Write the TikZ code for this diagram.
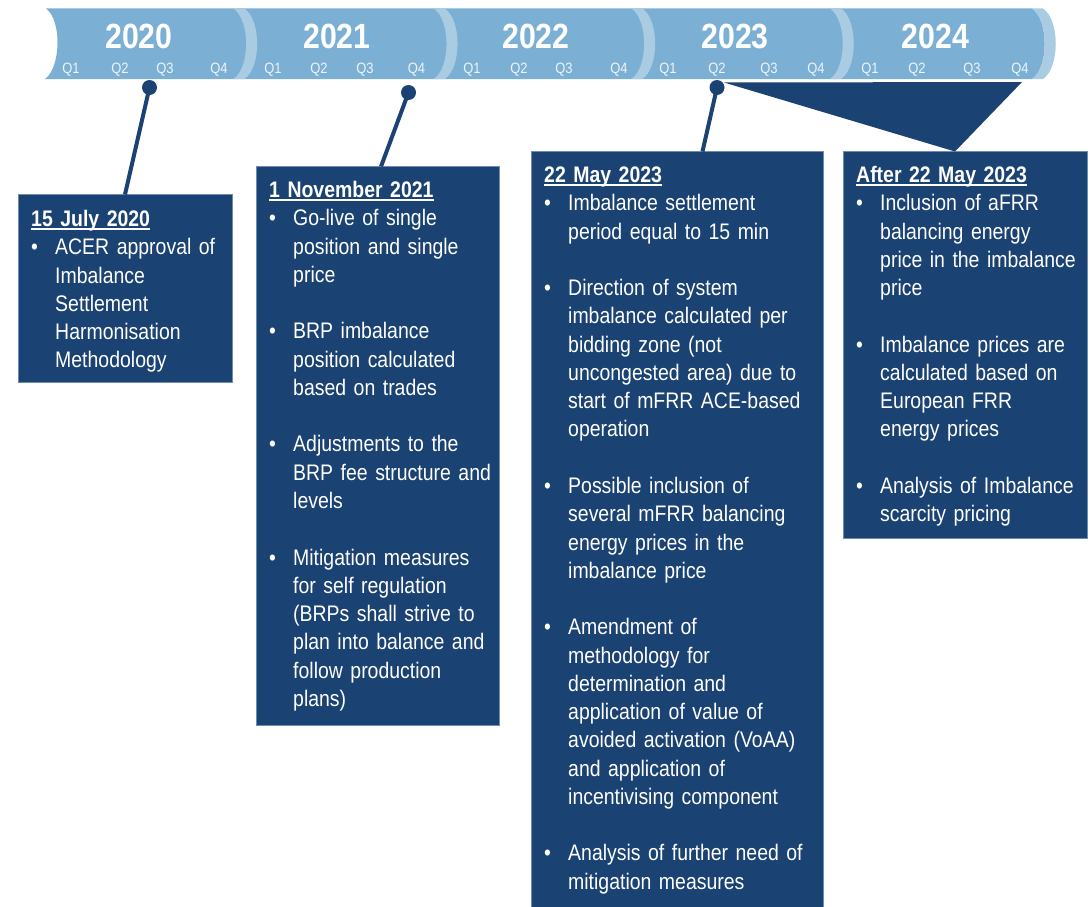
\documentclass[tikz,border=0pt]{standalone}
\usepackage{fontspec}
\newfontfamily\nar{Liberation Sans}[FakeStretch=0.865]
\definecolor{barblue}{HTML}{7BAFD4}
\definecolor{bandblue}{HTML}{A9CCE3}
\definecolor{navy}{HTML}{1A4272}
\definecolor{edgeblue}{HTML}{6E8CB0}
\definecolor{qtext}{HTML}{EEF4F9}
\newsavebox\ttlbox
\newcommand\ttl[1]{\sbox\ttlbox{\bfseries #1}\rlap{\usebox\ttlbox}\rule[-3.3pt]{\wd\ttlbox}{1.8pt}}
\newcommand\blt{\makebox[24pt][l]{\textbullet}}
\newcommand\ind{\hspace*{24pt}}
\tikzset{
  year/.style={text=white, font=\nar\bfseries\fontsize{35}{35}\selectfont, inner sep=0pt, anchor=center},
  qlab/.style={text=qtext, font=\nar\fontsize{15}{15}\selectfont, inner sep=0pt, anchor=center},
  infobox/.style={draw=edgeblue, line width=0.8pt, fill=navy, anchor=north west, inner sep=0pt},
  infotext/.style={text=white, anchor=base west, inner sep=0pt, text width=320pt, align=left,
    font=\nar\fontsize{22.5}{28.27}\selectfont},
  pindot/.style={circle, fill=navy, minimum size=15pt, inner sep=0pt},
  pinline/.style={draw=navy, line width=4pt}
}
\begin{document}
\begin{tikzpicture}[x=1pt,y=-1pt]
\useasboundingbox (0,0) rectangle (1092,907);
% timeline bar
\fill[barblue] (46,8.5) -- (1032,8.5) .. controls (1049,20) and (1049,67.5) .. (1032,79)
  -- (45,79) .. controls (61,67.5) and (62,20) .. (46,8.5) -- cycle;
\foreach \b in {233.4,433.8,631.4,830,1032}{
  \fill[bandblue] (\b,8.5) .. controls ({\b+17},20) and ({\b+17},67.5) .. (\b,79)
    -- ({\b+11},79) .. controls ({\b+28},67.5) and ({\b+28},20) .. ({\b+11},8.5) -- cycle;
}
% years
\foreach \yr/\xx in {2020/139,2021/337,2022/536,2023/735,2024/935.5}
  \node[year] (y\yr) at (\xx,36) {\yr};
% quarters
\foreach \xx/\nm/\q in {71/a1/Q1,120/a2/Q2,165/a3/Q3,219/a4/Q4,
  273/b1/Q1,319/b2/Q2,365/b3/Q3,416.5/b4/Q4,
  472/c1/Q1,519/c2/Q2,564/c3/Q3,619/c4/Q4,
  668/d1/Q1,717/d2/Q2,769/d3/Q3,816/d4/Q4,
  870/e1/Q1,917/e2/Q2,972/e3/Q3,1020/e4/Q4}
  \node[qlab] (q\nm) at (\xx,69.5) {\q};
% boxes
\node[infobox, minimum width=214pt, minimum height=188pt] (box1) at (18,194) {};
\node[infobox, minimum width=243pt, minimum height=559pt] (box2) at (256,166) {};
\node[infobox, minimum width=292pt, minimum height=770pt] (box3) at (531,151) {};
\node[infobox, minimum width=244pt, minimum height=387pt] (box4) at (843,151) {};
% pins
\node[pindot] (dot1) at (149.5,87.5) {};
\node[pindot] (dot2) at (408.5,92.5) {};
\node[pindot] (dot3) at (717,87.5) {};
\coordinate (p1) at (125,194.5);
\coordinate (p2) at (381,166.5);
\coordinate (p3) at (702.5,151.5);
\draw[pinline] (dot1.center) -- (p1);
\draw[pinline] (dot2.center) -- (p2);
\draw[pinline] (dot3.center) -- (p3);
% range triangle
\coordinate (tA) at (724,82.5);
\coordinate (tB) at (1022,82);
\coordinate (tC) at (955,151.5);
\fill[navy] (tA) -- (tB) -- (tC) -- cycle;
% texts
\node[infotext] (txt1) at (31,226.5) {\ttl{15 July 2020}\\
\blt ACER approval of\\
\ind Imbalance\\
\ind Settlement\\
\ind Harmonisation\\
\ind Methodology};
\node[infotext] (txt2) at (269,197.5) {\ttl{1 November 2021}\\
\blt Go-live of single\\
\ind position and single\\
\ind price\\
\mbox{}\\
\blt BRP imbalance\\
\ind position calculated\\
\ind based on trades\\
\mbox{}\\
\blt Adjustments to the\\
\ind BRP fee structure and\\
\ind levels\\
\mbox{}\\
\blt Mitigation measures\\
\ind for self regulation\\
\ind (BRPs shall strive to\\
\ind plan into balance and\\
\ind follow production\\
\ind plans)};
\node[infotext] (txt3) at (544,182.5) {\ttl{22 May 2023}\\
\blt Imbalance settlement\\
\ind period equal to 15 min\\
\mbox{}\\
\blt Direction of system\\
\ind imbalance calculated per\\
\ind bidding zone (not\\
\ind uncongested area) due to\\
\ind start of mFRR ACE-based\\
\ind operation\\
\mbox{}\\
\blt Possible inclusion of\\
\ind several mFRR balancing\\
\ind energy prices in the\\
\ind imbalance price\\
\mbox{}\\
\blt Amendment of\\
\ind methodology for\\
\ind determination and\\
\ind application of value of\\
\ind avoided activation (VoAA)\\
\ind and application of\\
\ind incentivising component\\
\mbox{}\\
\blt Analysis of further need of\\
\ind mitigation measures};
\node[infotext] (txt4) at (856,182.5) {\ttl{After 22 May 2023}\\
\blt Inclusion of aFRR\\
\ind balancing energy\\
\ind price in the imbalance\\
\ind price\\
\mbox{}\\
\blt Imbalance prices are\\
\ind calculated based on\\
\ind European FRR\\
\ind energy prices\\
\mbox{}\\
\blt Analysis of Imbalance\\
\ind scarcity pricing};
\end{tikzpicture}
\end{document}
